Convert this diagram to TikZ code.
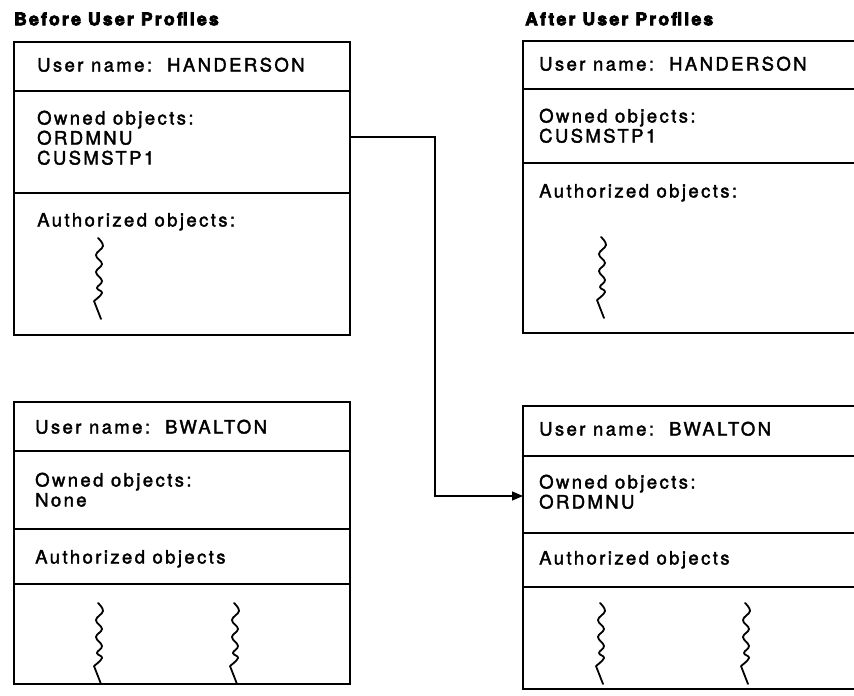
\documentclass[tikz,border=0pt]{standalone}
\usepackage{fontspec}
\usetikzlibrary{arrows.meta}
\setmainfont{TeX Gyre Heros}
\newfontfamily\bodyfont[LetterSpace=13,FakeBold=2]{TeX Gyre Heros}
\newfontfamily\headfont[LetterSpace=13,BoldFeatures={FakeBold=4.5}]{TeX Gyre Heros}

\tikzset{
  profbox/.style={draw, line width=1.7pt, inner sep=0pt, outer sep=0pt, anchor=north west, minimum width=336pt},
  divider/.style={line width=1.4pt},
  lbl/.style={anchor=west, inner sep=0pt, text height=13pt, text depth=0pt, font=\fontsize{18.5}{20}\bodyfont},
  heading/.style={anchor=west, inner sep=0pt, text height=12.5pt, text depth=0pt, font=\fontsize{17.5}{19}\headfont\bfseries},
  conn/.style={line width=1.3pt, -{Triangle[length=11pt,width=9pt]}},
  squigline/.style={line width=1.8pt, line cap=round, line join=round},
  squig/.pic={\draw[squigline] plot[smooth, tension=0.7] coordinates
      {(0,0) (5,8) (-2,17) (4,26) (-2,34) (4,43) (-1,50) (4,55) (-4,63)} -- (3,81);}
}

\begin{document}
\begin{tikzpicture}[x=1pt, y=-1pt]
\clip (0,0) rectangle (854,696);

% headings
\node[heading] (hbefore) at (14,19) {Before User Profiles};
\node[heading] (hafter) at (525,19) {After User Profiles};

% ---- before: HANDERSON
\node[profbox, minimum height=293pt] (hb) at (14,42) {};
\draw[divider] (14,91) -- (350,91);
\draw[divider] (14,193) -- (350,193);
\node[lbl] (hb-name) at (37,65) {User name:~~HANDERSON};
\node[lbl] (hb-own) at (37,118) {Owned objects:};
\node[lbl] (hb-o1) at (37,138) {ORDMNU};
\node[lbl] (hb-o2) at (37,158) {CUSMSTP1};
\node[lbl] (hb-auth) at (37,220) {Authorized objects:};
\pic at (98,238) {squig};

% ---- before: BWALTON
\node[profbox, minimum height=282pt] (bb) at (14,402) {};
\draw[divider] (14,451) -- (350,451);
\draw[divider] (14,529) -- (350,529);
\draw[divider] (14,584) -- (350,584);
\node[lbl] (bb-name) at (35,427) {User name:~~BWALTON};
\node[lbl] (bb-own) at (35,480) {Owned objects:};
\node[lbl] (bb-o1) at (35,500) {None};
\node[lbl] (bb-auth) at (35,557) {Authorized objects};
\pic at (98,603) {squig};
\pic at (234,603) {squig};

% ---- after: HANDERSON
\node[profbox, minimum height=292pt] (ha) at (523,41) {};
\draw[divider] (523,89) -- (860,89);
\draw[divider] (523,163) -- (860,163);
\node[lbl] (ha-name) at (539,64) {User name:~~HANDERSON};
\node[lbl] (ha-own) at (539,116) {Owned objects:};
\node[lbl] (ha-o1) at (539,136) {CUSMSTP1};
\node[lbl] (ha-auth) at (539,191) {Authorized objects:};
\pic at (601,237) {squig};

% ---- after: BWALTON
\node[profbox, minimum height=283pt] (ba) at (523,406) {};
\draw[divider] (523,456) -- (860,456);
\draw[divider] (523,533) -- (860,533);
\draw[divider] (523,587) -- (860,587);
\node[lbl] (ba-name) at (539,429) {User name:~~BWALTON};
\node[lbl] (ba-own) at (539,482) {Owned objects:};
\node[lbl] (ba-o1) at (539,502) {ORDMNU};
\node[lbl] (ba-auth) at (539,558) {Authorized objects};
\pic at (600,603) {squig};
\pic at (745,603) {squig};

% ORDMNU moves from HANDERSON to BWALTON
\coordinate (k1) at (435,137);
\coordinate (k2) at (435,496);
\draw[conn] (hb.east |- k1) -- (k1) -- (k2) -- (ba.west |- k2);
\end{tikzpicture}
\end{document}
